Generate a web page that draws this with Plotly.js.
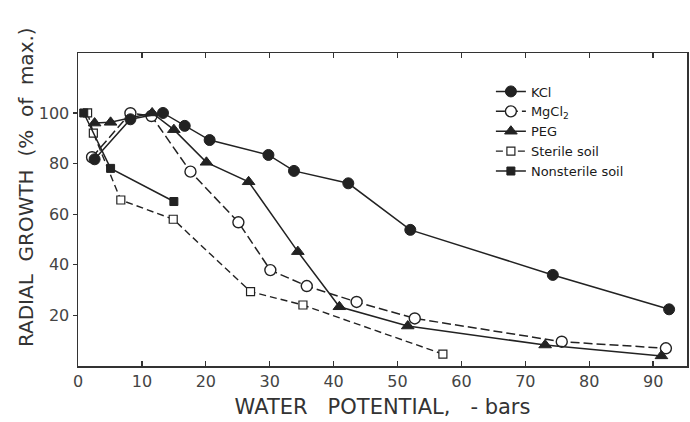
<!DOCTYPE html>
<html>
<head>
<meta charset="utf-8">
<script src="https://cdn.plot.ly/plotly-3.0.1.min.js"></script>
<style>html,body{margin:0;padding:0;background:#fff;}#chart{width:690px;height:422px;}</style>
</head>
<body>
<div id="chart"></div>
<script>
// Water potential (-bars) and radial growth (% of max.)
var kclX = [2.6, 8.2, 13.3, 16.7, 20.6, 29.8, 33.8, 42.3, 52.0, 74.3, 92.5];
var kclY = [81.7, 97.5, 100, 94.9, 89.3, 83.4, 77.1, 72.2, 53.8, 36.0, 22.4];

var mgX = [2.2, 8.2, 11.5, 17.6, 25.1, 30.1, 35.8, 43.6, 52.7, 75.7, 92.0];
var mgY = [82.5, 99.9, 98.8, 76.8, 56.8, 37.9, 31.6, 25.3, 18.8, 9.6, 7.0];

var pegX = [2.6, 5.1, 11.6, 15.0, 20.1, 26.7, 34.4, 40.9, 51.6, 73.1, 91.3];
var pegY = [96.0, 96.3, 100, 93.4, 80.5, 72.8, 45.2, 23.4, 15.8, 8.3, 4.0];

var sterileX = [1.5, 2.4, 6.7, 14.9, 27.0, 35.2, 57.1];
var sterileY = [100, 92.0, 65.6, 58.0, 29.4, 24.1, 4.7];

var nonsterileX = [0.9, 5.1, 15.0];
var nonsterileY = [100, 78.1, 65.0];

var seriesNames = ["KCl", "MgCl<sub>2</sub>", "PEG", "Sterile soil", "Nonsterile soil"];
var xTickVals = [0, 10, 20, 30, 40, 50, 60, 70, 80, 90];
var yTickVals = [20, 40, 60, 80, 100];

var ink = "#222";
var nb = "\u00a0";

var traces = [
  {x: sterileX, y: sterileY, name: seriesNames[3], legendrank: 4, mode: "lines+markers", type: "scatter",
   line: {color: ink, width: 1.4, dash: "7px,4px"},
   marker: {symbol: "square", size: 8, color: "#fff", line: {color: ink, width: 1.2}}},
  {x: mgX, y: mgY, name: seriesNames[1], legendrank: 2, mode: "lines+markers", type: "scatter",
   line: {color: ink, width: 1.5, dash: "9px,4px"},
   marker: {symbol: "circle", size: 11, color: "#fff", line: {color: ink, width: 1.4}}},
  {x: nonsterileX, y: nonsterileY, name: seriesNames[4], legendrank: 5, mode: "lines+markers", type: "scatter",
   line: {color: ink, width: 1.5},
   marker: {symbol: "square", size: 8, color: ink, line: {color: ink, width: 1}}},
  {x: pegX, y: pegY, name: seriesNames[2], legendrank: 3, mode: "lines+markers", type: "scatter",
   line: {color: ink, width: 1.5},
   marker: {symbol: "triangle-up", size: 11, color: ink, line: {color: ink, width: 1}}},
  {x: kclX, y: kclY, name: seriesNames[0], legendrank: 1, mode: "lines+markers", type: "scatter",
   line: {color: ink, width: 1.5},
   marker: {symbol: "circle", size: 11, color: ink, line: {color: ink, width: 1}}}
];

var layout = {
  width: 690, height: 422,
  margin: {l: 78, r: 3, t: 53, b: 56, autoexpand: false},
  paper_bgcolor: "#fff", plot_bgcolor: "#fff",
  font: {family: "DejaVu Sans", color: "#333"},
  showlegend: true,
  legend: {
    xref: "paper", yref: "paper",
    x: 0.678, y: 0.925, xanchor: "left", yanchor: "top",
    bgcolor: "rgba(255,255,255,0)", borderwidth: 0,
    font: {family: "DejaVu Sans", size: 13, color: "#1a1a1a"},
    tracegroupgap: 0, itemwidth: 30
  },
  xaxis: {
    range: [0, 95.3], tickvals: xTickVals, ticktext: xTickVals.map(String),
    ticks: "inside", ticklen: 5, tickwidth: 1.3, tickcolor: "#333",
    showline: true, linecolor: "#333", linewidth: 1.5, mirror: "ticks",
    showgrid: false, zeroline: false, automargin: false,
    tickfont: {family: "DejaVu Sans", size: 16, color: "#444"},
    title: {text: "WATER" + nb + nb + nb + "POTENTIAL," + nb + nb + nb + "-" + nb + "bars",
            font: {family: "DejaVu Sans", size: 21, color: "#333"}, standoff: 9}
  },
  yaxis: {
    range: [0, 123.7], tickvals: yTickVals, ticktext: yTickVals.map(String),
    ticks: "outside", ticklen: 4, tickwidth: 1.3, tickcolor: "#333",
    showline: true, linecolor: "#333", linewidth: 1.5, mirror: true,
    showgrid: false, zeroline: false, automargin: false,
    tickfont: {family: "DejaVu Sans", size: 16, color: "#444"},
    title: {text: "\u200b" + nb.repeat(7) + "RADIAL" + nb + nb + "GROWTH" + nb + nb + "(%" + nb + nb + "of" + nb + nb + "max.)",
            font: {family: "DejaVu Sans", size: 20, color: "#333"}, standoff: 0}
  },
  yaxis2: {
    overlaying: "y", side: "right", range: [0, 123.7], tickvals: yTickVals,
    ticks: "inside", ticklen: 5, tickwidth: 1.3, tickcolor: "#333", automargin: false,
    showticklabels: false, showline: false, showgrid: false, zeroline: false
  }
};

Plotly.newPlot("chart", traces, layout, {displayModeBar: false, staticPlot: true});
</script>
</body>
</html>
